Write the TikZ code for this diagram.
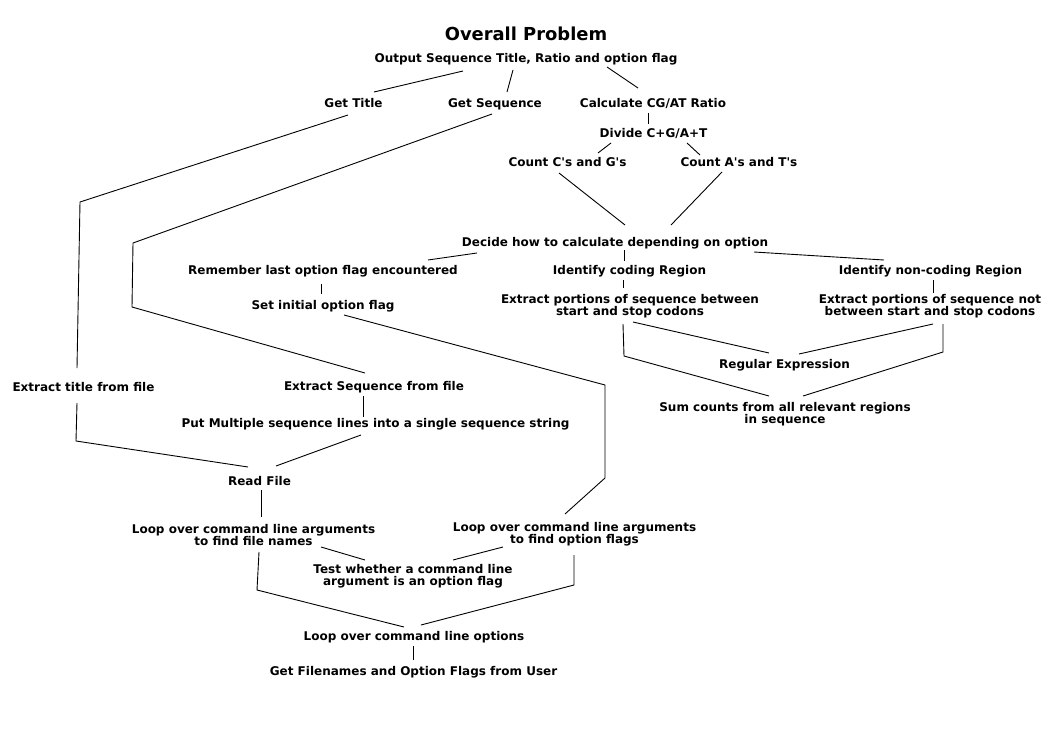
\documentclass[tikz,border=0pt]{standalone}
\usepackage{fontspec}
\setmainfont{DejaVu Sans}
\begin{document}
\begin{tikzpicture}[x=1pt,y=-1pt,
  lbl/.style={font=\fontsize{12}{12}\selectfont\bfseries, align=center, inner sep=0pt},
  lb/.style={lbl, anchor=base},
  lc/.style={lbl, anchor=center},
  ttl/.style={font=\fontsize{17.9}{20}\selectfont\bfseries, inner sep=0pt, anchor=base},
  conn/.style={draw=black, line width=0.9pt}]
\useasboundingbox (0,0) rectangle (1052,744);
\node[ttl] (title) at (526,40) {Overall Problem};
\node[lb] (out) at (526,62) {Output Sequence Title, Ratio and option flag};
\node[lb] (gt) at (353.5,107.5) {Get Title};
\node[lb] (gs) at (495,107) {Get Sequence};
\node[lb] (calc) at (653,107.5) {Calculate CG/AT Ratio};
\node[lb] (div) at (653.5,137.5) {Divide C+G/A+T};
\node[lb] (ccg) at (567.5,166.5) {Count C\textquotesingle s and G\textquotesingle s};
\node[lb] (cat) at (739,166.5) {Count A\textquotesingle s and T\textquotesingle s};
\node[lb] (dec) at (615,246.5) {Decide how to calculate depending on option};
\node[lb] (rem) at (323,274.5) {Remember last option flag encountered};
\node[lb] (idc) at (629.5,274.5) {Identify coding Region};
\node[lb] (idn) at (930.5,274.5) {Identify non-coding Region};
\node[lb] (set) at (323,309) {Set initial option flag};
\node[lc] (exc) at (630,306.5) {Extract portions of sequence between\\start and stop codons};
\node[lc] (exn) at (930,306.5) {Extract portions of sequence not\\between start and stop codons};
\node[lb] (reg) at (784.5,368.5) {Regular Expression};
\node[lc] (sum) at (785,414) {Sum counts from all relevant regions\\in sequence};
\node[lb] (ext) at (83.5,391.5) {Extract title from file};
\node[lb] (exs) at (374,390.5) {Extract Sequence from file};
\node[lb] (put) at (375.5,427.5) {Put Multiple sequence lines into a single sequence string};
\node[lb] (read) at (259.5,485.5) {Read File};
\node[lc] (lpf) at (253.5,535.5) {Loop over command line arguments\\to find file names};
\node[lc] (lpo) at (574.5,534) {Loop over command line arguments\\to find option flags};
\node[lc] (test) at (413,576.5) {Test whether a command line\\argument is an option flag};
\node[lb] (lco) at (414,640.5) {Loop over command line options};
\node[lb] (get) at (413.5,675.5) {Get Filenames and Option Flags from User};
% bend points
\coordinate (c1) at (80,202);
\coordinate (c2) at (76,441);
\coordinate (c3) at (133,243);
\coordinate (c4) at (132,307);
\coordinate (c5) at (605,385);
\coordinate (c6) at (605,478);
\coordinate (c7) at (624,356);
\coordinate (c8) at (943,352);
\coordinate (c9) at (257,590);
\coordinate (c10) at (574,585);
% connectors
\draw[conn] ([shift={(-63,9)}]out.base) -- ([shift={(20.5,-15.5)}]gt.base);
\draw[conn] ([shift={(-13,8)}]out.base) -- ([shift={(12,-15)}]gs.base);
\draw[conn] ([shift={(81,5)}]out.base) -- ([shift={(-15,-19.5)}]calc.base);
\draw[conn] ([shift={(-5,5.5)}]calc.base) -- ([shift={(-5.5,-13.5)}]div.base);
\draw[conn] ([shift={(-42.5,5.5)}]div.base) -- ([shift={(30.5,-13.5)}]ccg.base);
\draw[conn] ([shift={(33.5,5.5)}]div.base) -- ([shift={(-39,-11.5)}]cat.base);
\draw[conn] ([shift={(-5.5,7.5)}]gt.base) -- (c1) -- ([shift={(-6.5,-23.5)}]ext.base);
\draw[conn] ([shift={(-6.5,11.5)}]ext.base) -- (c2) -- ([shift={(-11.5,-18.5)}]read.base);
\draw[conn] ([shift={(-3,7)}]gs.base) -- (c3) -- (c4) -- ([shift={(-9,-17.5)}]exs.base);
\draw[conn] ([shift={(-11,5.5)}]exs.base) -- ([shift={(-12.5,-10.5)}]put.base);
\draw[conn] ([shift={(-14.5,7.5)}]put.base) -- ([shift={(16.5,-19.5)}]read.base);
\draw[conn] ([shift={(1.5,4.5)}]read.base) -- ([shift={(7.5,-18.5)}]lpf.center);
\draw[conn] ([shift={(-2,9.5)}]rem.base) -- ([shift={(-2,-15)}]set.base);
\draw[conn] ([shift={(21,6)}]set.base) -- (c5) -- (c6) -- ([shift={(-9.5,-20)}]lpo.center);
\draw[conn] ([shift={(-138,6.5)}]dec.base) -- ([shift={(105,-14.5)}]rem.base);
\draw[conn] ([shift={(-8.5,6.5)}]ccg.base) -- ([shift={(10,-21.5)}]dec.base);
\draw[conn] ([shift={(-17,5.5)}]cat.base) -- ([shift={(56,-21.5)}]dec.base);
\draw[conn] ([shift={(9,3.5)}]dec.base) -- ([shift={(-5.5,-13.5)}]idc.base);
\draw[conn] ([shift={(139,5.5)}]dec.base) -- ([shift={(-46.5,-14.5)}]idn.base);
\draw[conn] ([shift={(-6.5,5.5)}]idc.base) -- ([shift={(-7,-18.5)}]exc.center);
\draw[conn] ([shift={(2.5,5.5)}]idn.base) -- ([shift={(3,-13.5)}]exn.center);
\draw[conn] ([shift={(3,15.5)}]exc.center) -- ([shift={(-15.5,-15.5)}]reg.base);
\draw[conn] ([shift={(3,17.5)}]exn.center) -- ([shift={(14.5,-14.5)}]reg.base);
\draw[conn] ([shift={(-7,17.5)}]exc.center) -- (c7) -- ([shift={(-16,-18)}]sum.center);
\draw[conn] ([shift={(13,17.5)}]exn.center) -- (c8) -- ([shift={(18,-18)}]sum.center);
\draw[conn] ([shift={(67.5,11.5)}]lpf.center) -- ([shift={(-48,-16.5)}]test.center);
\draw[conn] ([shift={(-71.5,13)}]lpo.center) -- ([shift={(40,-16.5)}]test.center);
\draw[conn] ([shift={(5.5,16.5)}]lpf.center) -- (c9) -- ([shift={(-10,-13.5)}]lco.base);
\draw[conn] ([shift={(-0.5,21)}]lpo.center) -- (c10) -- ([shift={(7,-15.5)}]lco.base);
\draw[conn] ([shift={(-1,5.5)}]lco.base) -- ([shift={(-0.5,-15.5)}]get.base);
\end{tikzpicture}
\end{document}
